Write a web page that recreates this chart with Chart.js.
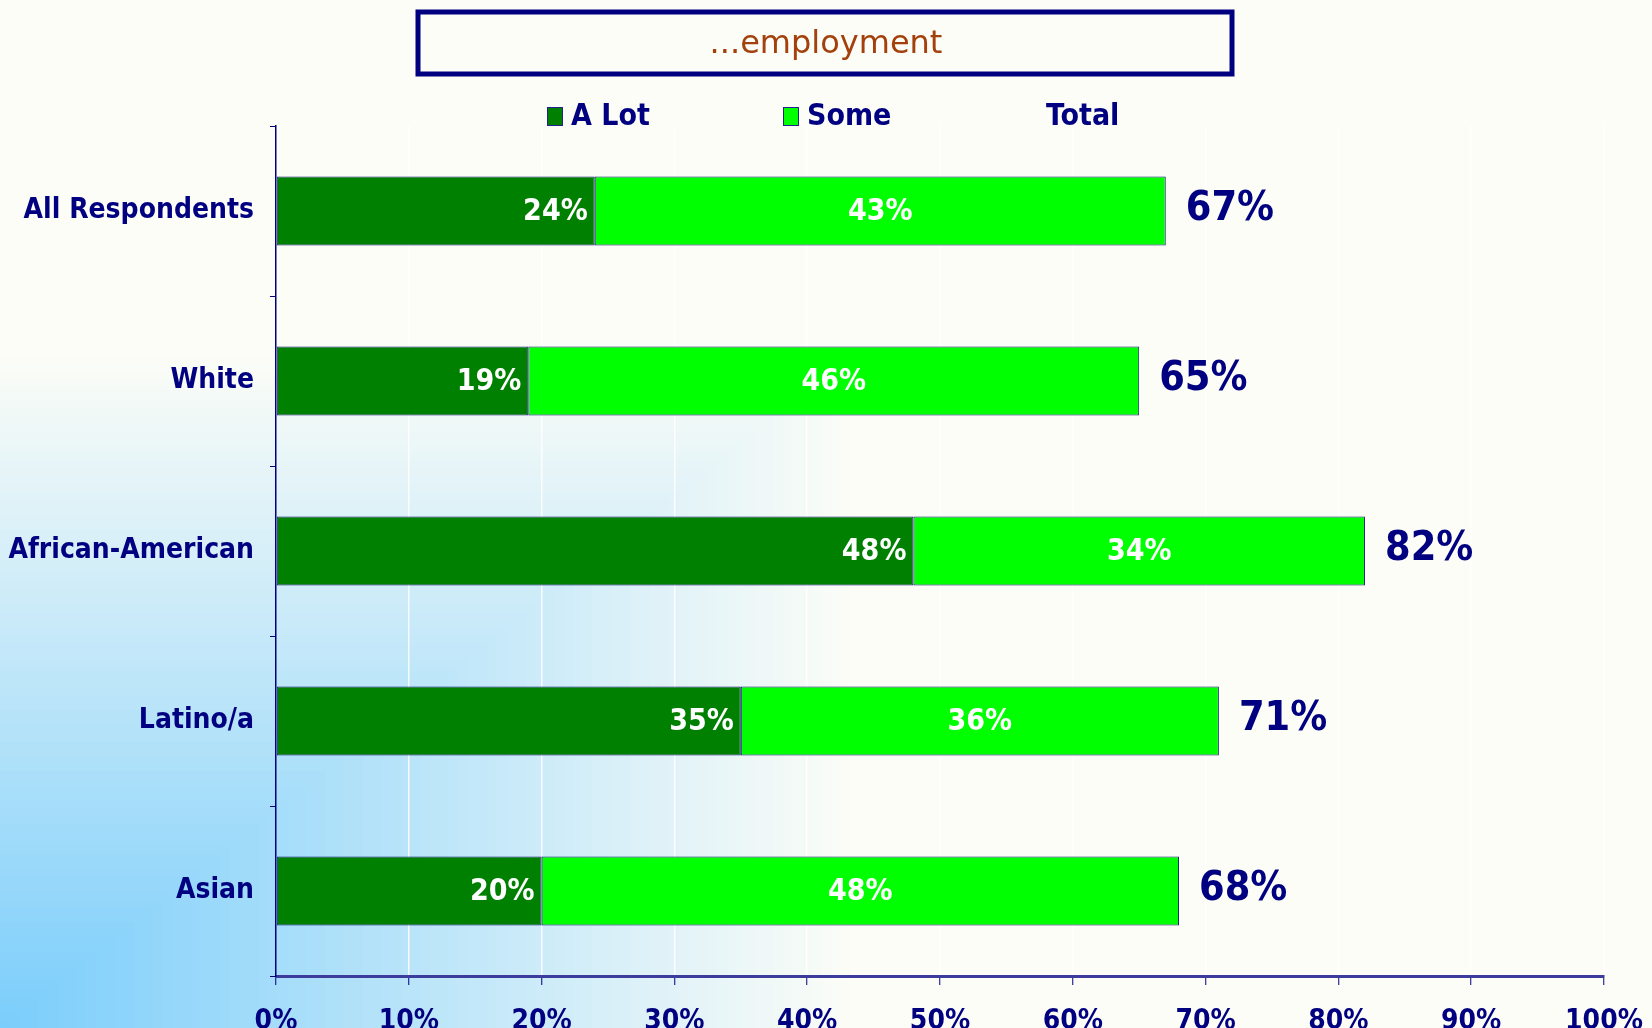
<!DOCTYPE html>
<html>
<head>
<meta charset="utf-8">
<script src="https://cdn.jsdelivr.net/npm/chart.js@4.4.1/dist/chart.umd.min.js"></script>
<style>
html, body { margin: 0; padding: 0; background: #fdfdf7; overflow: hidden; }
#wrap { width: 1652px; height: 1028px; }
</style>
</head>
<body>
<div id="wrap"><canvas id="myChart" width="1652" height="1028"></canvas></div>
<script>
// data
var categories = ["All Respondents", "White", "African-American", "Latino/a", "Asian"];
var aLot = [24, 19, 48, 35, 20];
var some = [43, 46, 34, 36, 48];
var total = [67, 65, 82, 71, 68];
var xTicks = [0, 10, 20, 30, 40, 50, 60, 70, 80, 90, 100];
var seriesNames = ["A Lot", "Some", "Total"];
var titleText = "...employment";

var NAVY = "#000080";
var FONT = "'DejaVu Sans Condensed', 'DejaVu Sans', sans-serif";

// corner gradient behind everything
var bgPlugin = {
    id: 'bg',
    beforeDraw: function (chart) {
        var ctx = chart.ctx, W = chart.width, H = chart.height;
        ctx.save();
        ctx.fillStyle = '#fdfdf7';
        ctx.fillRect(0, 0, W, H);
        var n = 90, gw = 860, gh = 680;
        var c0 = [122, 205, 251], c1 = [253, 253, 247];
        for (var i = n; i > 0; i--) {
            var t = i / n;
            var r = Math.round(c0[0] + (c1[0] - c0[0]) * t);
            var g = Math.round(c0[1] + (c1[1] - c0[1]) * t);
            var b = Math.round(c0[2] + (c1[2] - c0[2]) * t);
            ctx.fillStyle = 'rgb(' + r + ',' + g + ',' + b + ')';
            ctx.fillRect(0, H - gh * t, gw * t, gh * t);
        }
        ctx.restore();
    }
};

// title box and legend
var headPlugin = {
    id: 'head',
    afterDraw: function (chart) {
        var ctx = chart.ctx;
        ctx.save();
        // title box
        ctx.strokeStyle = NAVY;
        ctx.lineWidth = 5;
        ctx.fillStyle = '#fdfdf7';
        ctx.fillRect(418, 12, 814, 62);
        ctx.strokeRect(418, 12, 814, 62);
        ctx.fillStyle = '#a3400b';
        ctx.font = "32px 'DejaVu Sans', sans-serif";
        ctx.textAlign = 'center';
        ctx.textBaseline = 'middle';
        ctx.fillText(titleText, 826, 45);

        // legend
        ctx.font = "bold 30px " + FONT;
        ctx.textAlign = 'left';
        var ds = chart.data.datasets;
        var xs = [547, 783, 1022];
        for (var i = 0; i < seriesNames.length; i++) {
            var x = xs[i], y = 116;
            if (ds[i]) {
                ctx.fillStyle = ds[i].backgroundColor;
                ctx.fillRect(x, y - 9, 16, 19);
                ctx.strokeStyle = '#23238f';
                ctx.lineWidth = 1;
                ctx.strokeRect(x + 0.5, y - 8.5, 15, 18);
            }
            ctx.fillStyle = NAVY;
            ctx.fillText(seriesNames[i], x + 24, y + 1);
        }
        ctx.restore();
    }
};

// value labels in bars and totals at the bar ends
var labelPlugin = {
    id: 'labels',
    afterDatasetsDraw: function (chart) {
        var ctx = chart.ctx;
        var xs = chart.scales.x;
        ctx.save();
        ctx.textBaseline = 'middle';
        ctx.font = "bold 30px " + FONT;
        ctx.fillStyle = '#ffffff';
        chart.getDatasetMeta(0).data.forEach(function (bar, i) {
            ctx.textAlign = 'right';
            ctx.fillText(aLot[i] + '%', bar.x - 7, bar.y + 1);
        });
        chart.getDatasetMeta(1).data.forEach(function (bar, i) {
            ctx.textAlign = 'center';
            ctx.fillText(some[i] + '%', (bar.base + bar.x) / 2, bar.y + 1);
        });
        ctx.font = "bold 41px " + FONT;
        ctx.fillStyle = NAVY;
        ctx.textAlign = 'left';
        chart.getDatasetMeta(1).data.forEach(function (bar, i) {
            ctx.fillText(total[i] + '%', xs.getPixelForValue(total[i]) + 20, bar.y - 2);
        });
        ctx.restore();
    }
};

var ctx = document.getElementById('myChart').getContext('2d');
var myChart = new Chart(ctx, {
    type: 'bar',
    data: {
        labels: categories,
        datasets: [{
            label: seriesNames[0],
            data: aLot,
            backgroundColor: '#008000',
            borderColor: '#14147a',
            borderWidth: 1,
            borderSkipped: false,
            stack: 'a',
            barPercentage: 0.405,
            categoryPercentage: 1
        }, {
            label: seriesNames[1],
            data: some,
            backgroundColor: '#00ff00',
            borderColor: '#14147a',
            borderWidth: 1,
            borderSkipped: false,
            stack: 'a',
            barPercentage: 0.405,
            categoryPercentage: 1
        }]
    },
    options: {
        indexAxis: 'y',
        responsive: false,
        animation: false,
        layout: { padding: { top: 126, right: 48, left: 0, bottom: 0 } },
        plugins: {
            legend: { display: false },
            tooltip: { enabled: false }
        },
        scales: {
            x: {
                stacked: true,
                min: 0,
                max: 100,
                afterFit: function (s) {
                    s.height = 52;
                    s.paddingLeft = 0;
                    s.paddingRight = 0;
                },
                afterBuildTicks: function (s) {
                    s.ticks = xTicks.map(function (v) { return { value: v }; });
                },
                ticks: {
                    color: NAVY,
                    padding: 20,
                    font: { family: FONT, size: 28, weight: 'bold' },
                    callback: function (v) { return v + '%'; }
                },
                grid: {
                    color: function (c) {
                        return c.index === 0 ? 'rgba(0,0,0,0)' : 'rgba(255,255,255,0.85)';
                    },
                    lineWidth: 1.5,
                    tickLength: 9,
                    tickColor: NAVY,
                    tickWidth: 1
                },
                border: { color: '#3c3c9c', width: 3 }
            },
            y: {
                stacked: true,
                afterFit: function (s) { s.width = 276; },
                ticks: {
                    color: NAVY,
                    padding: 16,
                    font: { family: FONT, size: 28, weight: 'bold' }
                },
                grid: {
                    drawOnChartArea: false,
                    tickLength: 6,
                    tickColor: NAVY,
                    offset: true
                },
                border: { color: NAVY, width: 1.5 }
            }
        }
    },
    plugins: [bgPlugin, headPlugin, labelPlugin]
});
</script>
</body>
</html>
